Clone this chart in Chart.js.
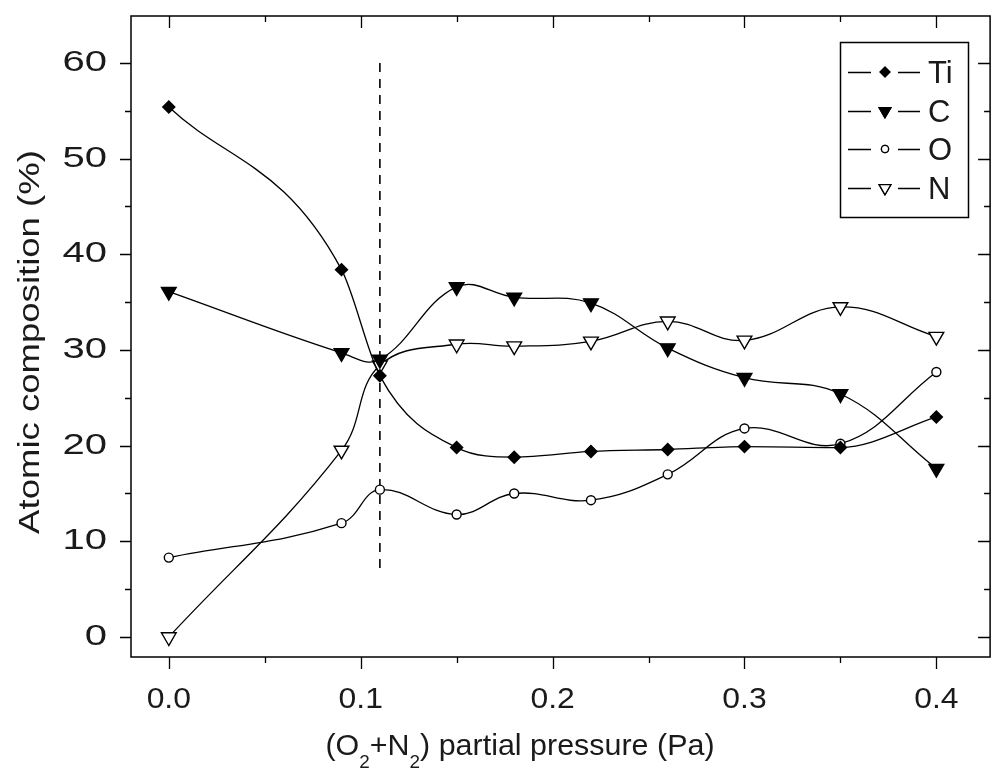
<!DOCTYPE html>
<html>
<head>
<meta charset="utf-8">
<script src="https://cdn.jsdelivr.net/npm/chart.js@4.4.1/dist/chart.umd.min.js"></script>
<style>
  html, body { margin: 0; padding: 0; background: #fff; overflow: hidden; }
  #wrap { width: 1000px; height: 782px; }
</style>
</head>
<body>
<div id="wrap"><canvas id="chart" width="1000" height="782"></canvas></div>
<script>
// partial pressure (Pa)
const xValues = [0, 0.09, 0.11, 0.15, 0.18, 0.22, 0.26, 0.30, 0.35, 0.40];
// atomic composition (%)
const tiValues = [55.4, 38.4, 27.3, 19.8, 18.8, 19.4, 19.6, 19.9, 19.8, 23.0];
const cValues  = [36.1, 29.7, 29.0, 36.6, 35.5, 34.9, 30.2, 27.1, 25.4, 17.6];
const oValues  = [8.3, 11.9, 15.4, 12.8, 15.0, 14.3, 17.0, 21.8, 20.2, 27.7];
const nValues  = [0.0, 19.5, 28.4, 30.6, 30.4, 30.9, 33.0, 31.0, 34.5, 31.4];
const seriesNames = ['Ti', 'C', 'O', 'N'];

// dashed marker line
const dashX = [0.11, 0.11];
const dashY = [60, 7];

// ticks
const xMajor = [0, 0.1, 0.2, 0.3, 0.4];
const xLabels = ['0.0', '0.1', '0.2', '0.3', '0.4'];
const xMinor = [0.05, 0.15, 0.25, 0.35];
const yMajor = [0, 10, 20, 30, 40, 50, 60];
const yLabels = ['0', '10', '20', '30', '40', '50', '60'];
const yMinor = [5, 15, 25, 35, 45, 55];

const FONT = '"Liberation Sans", Arial, sans-serif';
const INK = '#000';
const TEXT = '#1a1a1a';

const markers = [
  { style: 'rectRot',  radius: 6,   fill: INK,    rot: 0,   mono: true },
  { style: 'triangle', radius: 8.5, fill: INK,    rot: 180, mono: false },
  { style: 'circle',   radius: 4.5, fill: '#fff', rot: 0,   mono: false },
  { style: 'triangle', radius: 8.5, fill: '#fff', rot: 180, mono: false },
];

function pts(ys) {
  return xValues.map((x, i) => ({ x, y: ys[i] }));
}

function series(i, ys) {
  const m = markers[i];
  return {
    label: seriesNames[i],
    data: pts(ys),
    showLine: true,
    tension: 0.4,
    cubicInterpolationMode: m.mono ? 'monotone' : 'default',
    borderColor: INK,
    borderWidth: 1.3,
    pointStyle: m.style,
    pointRadius: m.radius,
    pointRotation: m.rot,
    pointBackgroundColor: m.fill,
    pointBorderColor: INK,
    pointBorderWidth: 1.4,
  };
}

function drawText(ctx, text, x, y, size, sx, align, baseline) {
  ctx.save();
  ctx.translate(x, y);
  ctx.scale(sx, 1);
  ctx.font = `${size}px ${FONT}`;
  ctx.textAlign = align;
  ctx.textBaseline = baseline || 'alphabetic';
  ctx.fillStyle = TEXT;
  ctx.fillText(text, 0, 0);
  ctx.restore();
}

// frame, ticks, labels, titles and boxed legend
const decor = {
  id: 'decor',
  afterDraw(chart) {
    const { ctx, chartArea: a, scales: { x, y } } = chart;
    ctx.save();
    ctx.strokeStyle = INK;
    ctx.lineWidth = 1.5;
    ctx.strokeRect(a.left, a.top, a.right - a.left, a.bottom - a.top);

    ctx.lineWidth = 1.3;
    ctx.beginPath();
    xMajor.forEach(v => {
      const px = Math.round(x.getPixelForValue(v)) + 0.5;
      ctx.moveTo(px, a.bottom); ctx.lineTo(px, a.bottom + 12);
      ctx.moveTo(px, a.top); ctx.lineTo(px, a.top + 12);
    });
    xMinor.forEach(v => {
      const px = Math.round(x.getPixelForValue(v)) + 0.5;
      ctx.moveTo(px, a.bottom); ctx.lineTo(px, a.bottom + 6);
      ctx.moveTo(px, a.top); ctx.lineTo(px, a.top + 6);
    });
    yMajor.forEach(v => {
      const py = Math.round(y.getPixelForValue(v)) + 0.5;
      ctx.moveTo(a.left, py); ctx.lineTo(a.left - 11, py);
      ctx.moveTo(a.right, py); ctx.lineTo(a.right - 12, py);
    });
    yMinor.forEach(v => {
      const py = Math.round(y.getPixelForValue(v)) + 0.5;
      ctx.moveTo(a.left, py); ctx.lineTo(a.left - 6, py);
      ctx.moveTo(a.right, py); ctx.lineTo(a.right - 6, py);
    });
    ctx.stroke();

    xMajor.forEach((v, i) => drawText(ctx, xLabels[i], x.getPixelForValue(v), 708, 29, 1.1, 'center'));
    yMajor.forEach((v, i) => drawText(ctx, yLabels[i], 107, y.getPixelForValue(v), 29, 1.38, 'right', 'middle'));

    // y title
    ctx.save();
    ctx.translate(31, 342);
    ctx.rotate(-Math.PI / 2);
    drawText(ctx, 'Atomic composition (%)', 0, 0, 29, 1.26, 'center', 'middle');
    ctx.restore();

    // x title with subscripts
    const parts = [['(O', 0], ['2', 1], ['+N', 0], ['2', 1], [') partial pressure (Pa)', 0]];
    const sx = 1.05;
    let total = 0;
    parts.forEach(([t, sub]) => {
      ctx.font = `${sub ? 18 : 29}px ${FONT}`;
      total += ctx.measureText(t).width * sx;
    });
    let cx = 520 - total / 2;
    parts.forEach(([t, sub]) => {
      ctx.font = `${sub ? 18 : 29}px ${FONT}`;
      const w = ctx.measureText(t).width * sx;
      drawText(ctx, t, cx, sub ? 768 : 755, sub ? 18 : 29, sx, 'left');
      cx += w;
    });

    // legend box
    ctx.strokeStyle = INK;
    ctx.lineWidth = 1.5;
    ctx.strokeRect(840.5, 42.5, 128, 175);
    const rows = [72, 111, 149, 188];
    ctx.lineWidth = 1.3;
    rows.forEach((ry, i) => {
      const m = markers[i];
      ctx.beginPath();
      ctx.moveTo(848, ry + 0.5); ctx.lineTo(871, ry + 0.5);
      ctx.moveTo(898, ry + 0.5); ctx.lineTo(920, ry + 0.5);
      ctx.stroke();
      ctx.fillStyle = m.fill;
      ctx.lineWidth = 1.3;
      Chart.helpers.drawPoint(ctx, {
        pointStyle: m.style,
        radius: m.radius * 0.8,
        rotation: m.rot,
        borderWidth: 1.3,
      }, 885, ry);
      ctx.fill();
      ctx.stroke();
      drawText(ctx, seriesNames[i], 928, ry + 11, 31, 1.0, 'left');
    });
    ctx.restore();
  }
};

new Chart(document.getElementById('chart'), {
  type: 'scatter',
  data: {
    datasets: [
      series(0, tiValues),
      series(1, cValues),
      series(2, oValues),
      series(3, nValues),
      {
        label: 'marker',
        data: dashX.map((x, i) => ({ x, y: dashY[i] })),
        showLine: true,
        borderColor: INK,
        borderWidth: 1.6,
        borderDash: [9, 7],
        pointRadius: 0,
      },
    ],
  },
  options: {
    responsive: false,
    devicePixelRatio: 1,
    animation: false,
    layout: { padding: { left: 131, top: 16, right: 5, bottom: 125 } },
    plugins: { legend: { display: false }, tooltip: { enabled: false } },
    scales: {
      x: {
        type: 'linear', min: -0.0197, max: 0.428,
        ticks: { display: false }, grid: { display: false }, border: { display: false },
        afterFit(s) { s.height = 0; },
      },
      y: {
        min: -2.09, max: 64.91,
        ticks: { display: false }, grid: { display: false }, border: { display: false },
        afterFit(s) { s.width = 0; },
      },
    },
  },
  plugins: [decor],
});
</script>
</body>
</html>
